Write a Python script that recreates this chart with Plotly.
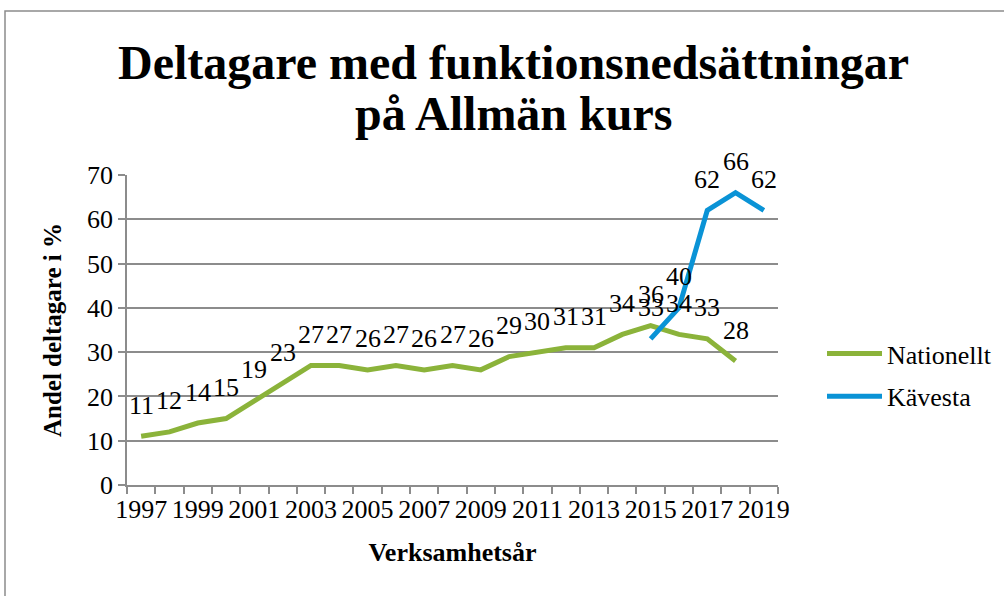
import plotly.graph_objects as go

years_nat = list(range(1997, 2019))
nationellt = [11, 12, 14, 15, 19, 23, 27, 27, 26, 27, 26, 27, 26, 29, 30, 31, 31, 34, 36, 34, 33, 28]
years_kav = [2015, 2016, 2017, 2018, 2019]
kavesta = [33, 40, 62, 66, 62]
tick_years = list(range(1997, 2020, 2))
title_lines = ["Deltagare med funktionsnedsättningar", "på Allmän kurs"]

FONT = "'Liberation Serif', 'Times New Roman', Tinos, 'DejaVu Serif', serif"
GREEN = "#8BB33A"
BLUE = "#0A93D6"
GRID = "#8C8C8C"

L, R, T, B = 127, 226, 175, 111
PH = 596 - T - B
PW = 1004 - L - R


def py(pix):
    return (596 - B - pix) / PH


def px(pix):
    return (pix - L) / PW


fig = go.Figure()
fig.add_trace(go.Scatter(x=years_nat, y=nationellt, mode="lines", name="Nationellt",
                         line=dict(color=GREEN, width=5), legendgroup="a"))
fig.add_trace(go.Scatter(x=years_kav, y=kavesta, mode="lines", name="Kävesta",
                         line=dict(color=BLUE, width=5), legendgroup="b"))

annotations = []
for xs, ys in ((years_nat, nationellt), (years_kav, kavesta)):
    for xv, yv in zip(xs, ys):
        annotations.append(dict(x=xv, y=yv, text=str(yv), showarrow=False, xref="x", yref="y",
                                yshift=31, font=dict(family=FONT, size=26, color="black")))

for txt, ypix in zip(title_lines, (62, 113)):
    annotations.append(dict(x=px(513), y=py(ypix), xref="paper", yref="paper",
                            text="<b>" + txt + "</b>", showarrow=False,
                            xanchor="center", yanchor="middle",
                            font=dict(family=FONT, size=48, color="black")))

fig.update_layout(
    width=1004, height=596,
    margin=dict(l=L, r=R, t=T, b=B, autoexpand=False),
    paper_bgcolor="white", plot_bgcolor="white",
    font=dict(family=FONT, color="black", size=25),
    annotations=annotations,
    showlegend=True,
    legend=dict(x=px(822), xanchor="left", y=py(375), yanchor="middle",
                font=dict(family=FONT, size=26, color="black"),
                itemwidth=55, tracegroupgap=6, bgcolor="rgba(0,0,0,0)"),
    shapes=[dict(type="rect", xref="paper", yref="paper",
                 x0=px(5), x1=2, y0=-1, y1=py(11),
                 line=dict(color="#8C8C8C", width=1.5), layer="below")],
)

fig.update_xaxes(
    range=[1996.5, 2019.5], tickmode="array", tickvals=tick_years,
    ticktext=[str(t) for t in tick_years], ticks="", showgrid=False,
    showline=True, linecolor=GRID, linewidth=1.5, zeroline=False,
    tickfont=dict(family=FONT, size=26),
    minor=dict(ticks="outside", tick0=1996.5, dtick=1, ticklen=7, tickcolor=GRID, tickwidth=1.5, showgrid=False),
    title=dict(text="<b>Verksamhetsår</b>", font=dict(family=FONT, size=26), standoff=20),
)
fig.update_yaxes(
    range=[0, 70], dtick=10, tick0=0, showgrid=True, gridcolor=GRID, gridwidth=1.5,
    showline=True, linecolor=GRID, linewidth=1.5, zeroline=False,
    ticks="outside", ticklen=7, tickcolor=GRID, tickwidth=1.5,
    tickfont=dict(family=FONT, size=26),
    title=dict(text="<b>Andel deltagare i %</b>", font=dict(family=FONT, size=25), standoff=18),
)

fig.write_html("out.html", config={"displayModeBar": False},
               post_script="document.body.style.margin='0';")
